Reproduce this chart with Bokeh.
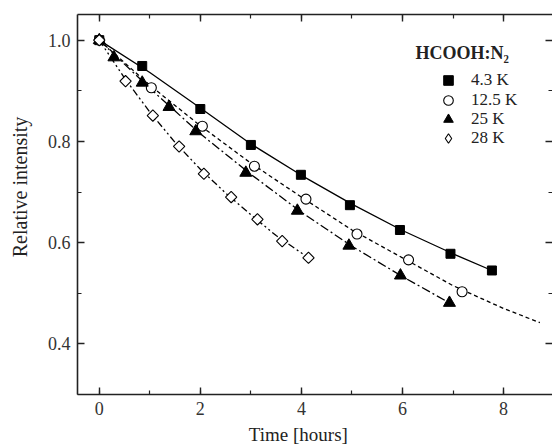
import math
from bokeh.plotting import figure
from bokeh.models import (Range1d, LinearAxis, SingleIntervalTicker, PrintfTickFormatter,
                          Legend, LegendItem, Label, CustomLabelingPolicy)
from bokeh.embed import file_html
from bokeh.resources import INLINE

# ---- data ----
t_43 = [0, 0.85, 2.0, 3.0, 3.99, 4.96, 5.95, 6.95, 7.77]
i_43 = [1.0, 0.949, 0.864, 0.793, 0.734, 0.674, 0.625, 0.578, 0.545]

t_125 = [0, 1.03, 2.04, 3.07, 4.09, 5.10, 6.12, 7.18]
i_125 = [1.0, 0.906, 0.830, 0.751, 0.686, 0.617, 0.566, 0.503]

t_25 = [0, 0.29, 0.85, 1.38, 1.91, 2.90, 3.92, 4.94, 5.96, 6.93]
i_25 = [1.0, 0.966, 0.916, 0.868, 0.820, 0.738, 0.663, 0.594, 0.535, 0.481]

t_28 = [0, 0.52, 1.06, 1.58, 2.07, 2.61, 3.13, 3.62, 4.14]
i_28 = [1.0, 0.919, 0.851, 0.790, 0.736, 0.690, 0.646, 0.603, 0.570]

# fit curves
fit_t_43 = [0, 1, 2, 3, 4, 5, 6, 7, 7.77]
fit_i_43 = [1.0, 0.936, 0.866, 0.795, 0.733, 0.676, 0.624, 0.578, 0.545]
fit_t_125 = [0, 1, 2, 3, 4, 5, 6, 7, 8, 8.72]
fit_i_125 = [1.0, 0.911, 0.831, 0.757, 0.690, 0.625, 0.570, 0.515, 0.470, 0.442]
fit_t_25 = [0, 1, 2, 3, 4, 5, 6, 6.93]
fit_i_25 = [1.0, 0.905, 0.815, 0.735, 0.660, 0.593, 0.533, 0.481]
fit_t_28 = [0, 0.5, 1, 1.5, 2, 2.5, 3, 3.5, 4.14]
fit_i_28 = [1.0, 0.925, 0.858, 0.798, 0.745, 0.698, 0.655, 0.614, 0.570]

labels = ["4.3 K", "12.5 K", "25 K", "28 K"]
legend_title = "HCOOH:N\u2082"
x_label = "Time [hours]"
y_label = "Relative intensity"

FONT = "Liberation Serif"

p = figure(width=552, height=447, x_range=Range1d(-0.431, 8.969), y_range=Range1d(0.300, 1.0507),
           output_backend="svg", toolbar_location=None,
           min_border_left=77, min_border_right=0, min_border_top=14, min_border_bottom=0)
p.outline_line_color = None
p.grid.visible = False
p.background_fill_color = "white"

xt = SingleIntervalTicker(interval=2, num_minor_ticks=2)
yt = SingleIntervalTicker(interval=0.2, num_minor_ticks=2)

for ax in p.xaxis:
    ax.ticker = xt
    ax.axis_label = x_label + "\u00a0" * 7
for ax in p.yaxis:
    ax.ticker = yt
    ax.formatter = PrintfTickFormatter(format="%.1f")
    ax.axis_label = "\u00a0" * 7 + y_label

no_labels = CustomLabelingPolicy(code="""
    const ids = Array.from(indices)
    for (const i of ids) indices.unset(i)
    return indices
""")

def style(ax, show_labels=True):
    ax.axis_line_color = "#222222"
    ax.axis_line_width = 1.6
    ax.major_tick_in = 7
    ax.major_tick_out = 0
    ax.minor_tick_in = 4
    ax.minor_tick_out = 0
    ax.major_tick_line_width = 1.4
    ax.minor_tick_line_width = 1.2
    ax.major_tick_line_color = "#222222"
    ax.minor_tick_line_color = "#222222"
    ax.major_label_text_font = FONT
    ax.major_label_text_font_size = "18px"
    ax.major_label_text_color = "#333333"
    ax.axis_label_text_font = FONT
    ax.axis_label_text_font_style = "normal"
    ax.axis_label_text_color = "#222222"
    if not show_labels:
        ax.major_label_policy = no_labels
        ax.major_label_text_font_size = "0px"
        ax.major_label_standoff = 0
        ax.axis_label = None

for ax in p.xaxis:
    style(ax)
    ax.major_label_standoff = 7
    ax.axis_label_standoff = 6
    ax.axis_label_text_font_size = "19px"
for ax in p.yaxis:
    style(ax)
    ax.major_label_standoff = 7
    ax.axis_label_standoff = 14
    ax.axis_label_text_font_size = "20px"

top = LinearAxis(ticker=SingleIntervalTicker(interval=2, num_minor_ticks=2))
style(top, show_labels=False)
p.add_layout(top, "above")
right = LinearAxis(ticker=SingleIntervalTicker(interval=0.2, num_minor_ticks=2))
style(right, show_labels=False)
right.axis_line_color = None
p.add_layout(right, "right")

# fit lines
lw = 1.3
p.line(fit_t_43, fit_i_43, line_color="black", line_width=lw)
p.line(fit_t_125, fit_i_125, line_color="black", line_width=lw, line_dash="4 3")
p.line(fit_t_25, fit_i_25, line_color="black", line_width=lw, line_dash="9 3 2 3")
p.line(fit_t_28, fit_i_28, line_color="black", line_width=lw, line_dash="7 3 2 3 2 3")

# markers
r43 = p.scatter(t_43, i_43, marker="square", size=9, fill_color="black", line_color="black")
r125 = p.scatter(t_125, i_125, marker="circle", size=10, fill_color="white", line_color="black", line_width=1.1)
r25 = p.scatter(t_25, i_25, marker="triangle", size=12, fill_color="black", line_color="black")
# legend glyph for the diamonds (legend glyphs ignore angle); tiny, hidden under the data marks
r28_leg = p.scatter(t_28, i_28, marker="diamond", size=1, fill_color="white",
                    line_color="black", line_width=1.1)
r28 = p.scatter(t_28, i_28, marker="square", angle=math.pi / 4, size=8,
                fill_color="white", line_color="black", line_width=1.1)

# one single-entry legend per row, so rows can be packed tighter than the glyph box
row_y = [302, 282, 263, 244]
for lab, rend, ly in zip(labels, [r43, r125, r25, r28_leg], row_y):
    lg = Legend(items=[LegendItem(label=lab, renderers=[rend])],
                location=(359, ly), border_line_color=None, background_fill_alpha=0,
                padding=0, margin=0, glyph_width=24, glyph_height=24, label_height=17,
                spacing=0, label_standoff=11, label_text_font=FONT, label_text_font_size="17px",
                label_text_color="#222222", label_text_baseline="middle")
    p.add_layout(lg, "center")

title = Label(x=338, y=342, x_units="screen", y_units="screen", text=legend_title,
              text_font=FONT, text_font_size="18px", text_font_style="bold",
              text_color="#222222", text_baseline="alphabetic")
p.add_layout(title)

open("out.html", "w").write(file_html(p, INLINE))
